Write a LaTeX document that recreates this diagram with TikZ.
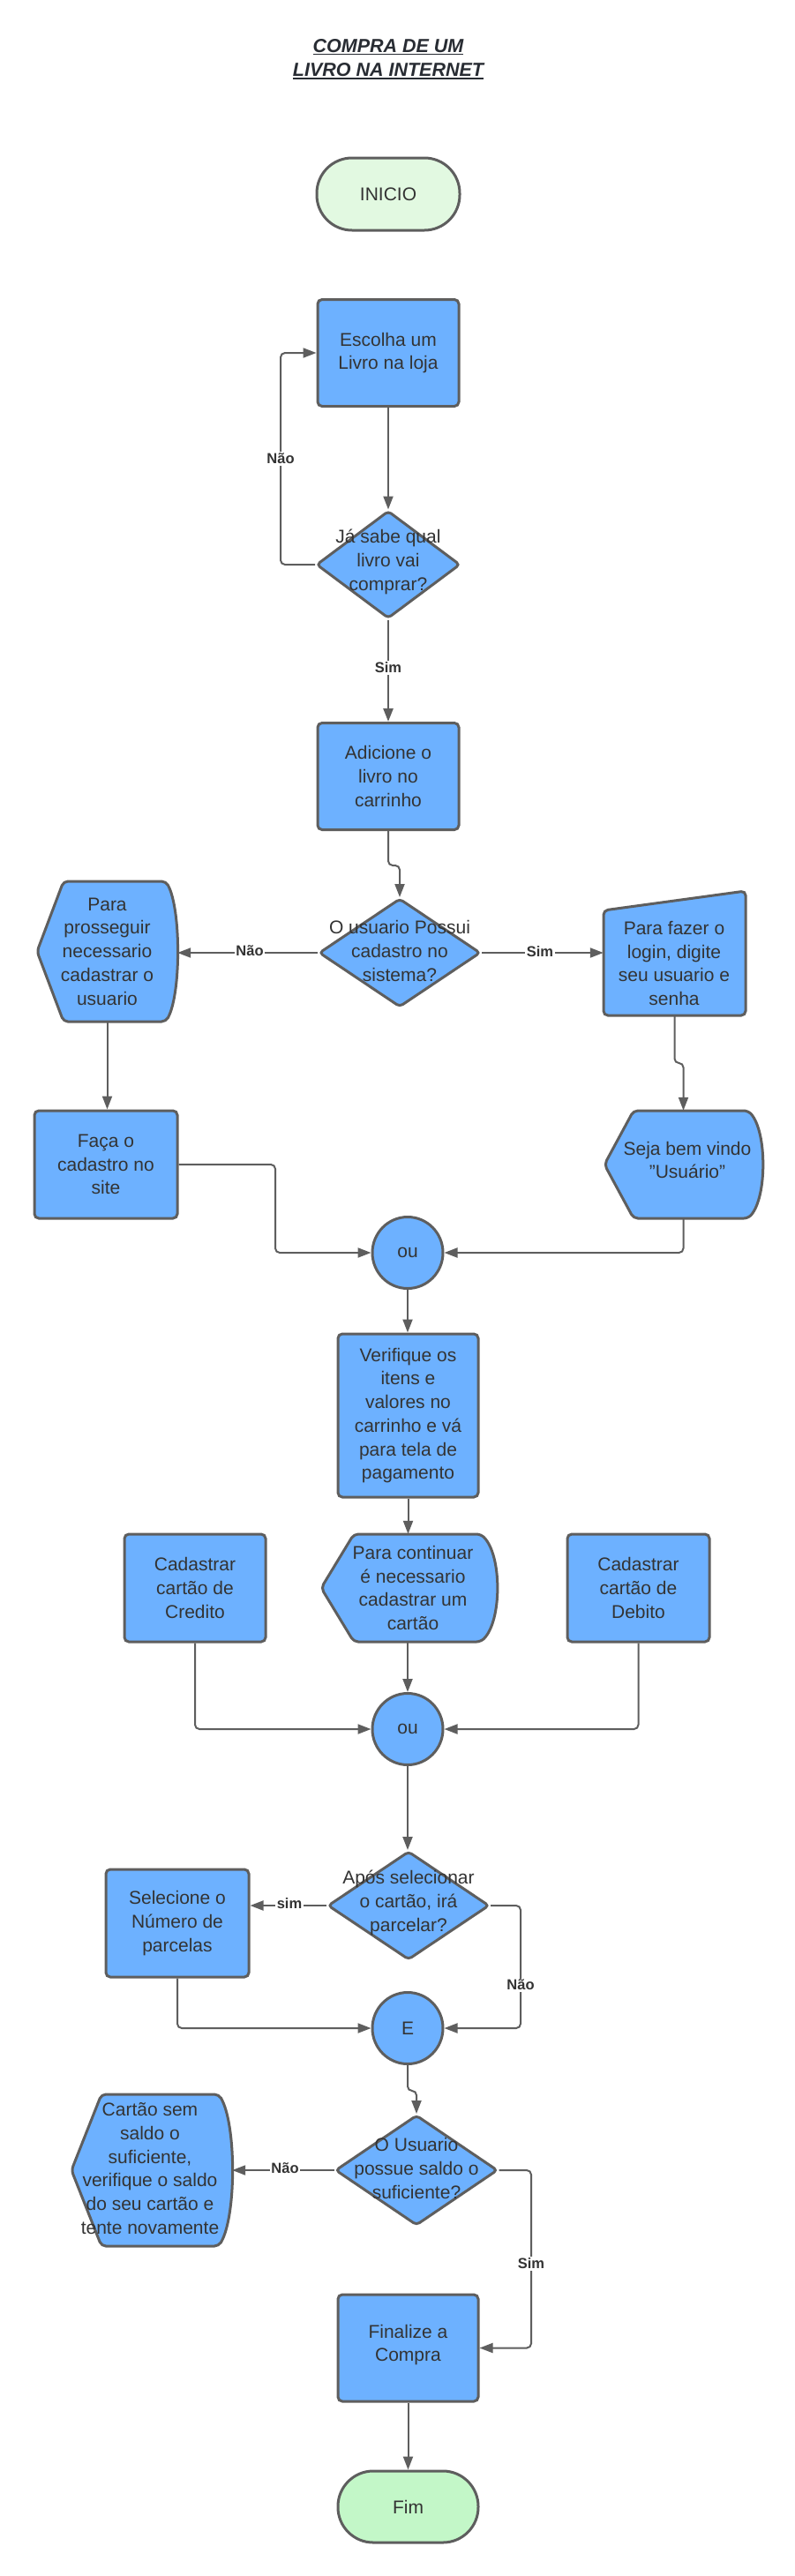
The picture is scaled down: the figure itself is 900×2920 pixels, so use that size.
\documentclass[tikz,border=0pt]{standalone}
\usepackage{fontspec}
\setmainfont{Liberation Sans}
\usetikzlibrary{shapes.geometric,arrows.meta}
\definecolor{bfill}{HTML}{6DB1FF}
\definecolor{edgec}{HTML}{5E5E5E}
\definecolor{txtc}{HTML}{333333}
\definecolor{titc}{HTML}{282C33}
\definecolor{gstart}{HTML}{E2F9E1}
\definecolor{gend}{HTML}{C3F7C8}
\newcommand{\ttlul}[1]{\setbox0\hbox{#1}\rlap{\rule[-3.2pt]{\wd0}{1.8pt}}\box0}
\newcommand{\dispshp}[6]{\draw[shp] (#1,{(#5+#6)/2}) -- (#2,#5) -- (#3,#5) .. controls ({#3+(#4-#3)*4/3},{#5+(#6-#5)*0.2}) and ({#3+(#4-#3)*4/3},{#6-(#6-#5)*0.2}) .. (#3,#6) -- (#2,#6) -- cycle;}
\begin{document}
\begin{tikzpicture}[x=1pt,y=-1pt,
  every node/.style={text=txtc, font=\fontsize{21}{26.7}\selectfont, align=center},
  shp/.style={draw=edgec, line width=3pt, fill=bfill, rounded corners=5pt},
  box/.style={shape=rectangle, draw=edgec, line width=3pt, fill=bfill, rounded corners=5pt, inner sep=0pt},
  bb/.style={shape=rectangle, inner sep=0pt},
  dia/.style={diamond, draw=edgec, line width=3pt, fill=bfill, rounded corners=4pt, inner sep=0pt},
  jn/.style={ellipse, draw=edgec, line width=3pt, fill=bfill, minimum width=80pt, minimum height=81pt, inner sep=0pt},
  term/.style={shape=rectangle, draw=edgec, line width=3pt, rounded corners=40pt, inner sep=0pt},
  conn/.style={draw=edgec, line width=2pt, rounded corners=5pt, -{Triangle[length=15pt,width=11pt]}},
  lbl/.style={fill=white, inner sep=1.5pt, font=\bfseries\fontsize{16.5}{18}\selectfont}
]
\fill[white] (0,0) rectangle (900,2920);
\useasboundingbox (0,0) rectangle (900,2920);

% title
\node[text=titc, font=\bfseries\itshape\fontsize{21.5}{27.5}\selectfont] (title) at (440,67) {\ttlul{COMPRA DE UM}\\\ttlul{LIVRO NA INTERNET}};

% terminators and boxes
\node[term, fill=gstart, minimum width=162pt, minimum height=82pt] (inicio) at (440,220) {INICIO};
\node[box, minimum width=160pt, minimum height=121pt] (escolha) at (440,400) {Escolha um\\Livro na loja};
\node[dia, minimum width=163pt, minimum height=122pt] (d1) at (440,640) {};
\node[box, minimum width=160pt, minimum height=121pt] (adicione) at (440,880) {Adicione o\\livro no\\carrinho};
\node[dia, minimum width=183pt, minimum height=123pt] (d2) at (453,1080) {};

% display shapes
\dispshp{42}{72}{188}{201}{999}{1158}
\dispshp{685}{718}{848}{864}{1259}{1381}
\dispshp{364}{401}{545}{563}{1739}{1861}
\dispshp{81}{115}{248}{263}{2374}{2546}
% manual input
\draw[shp] (684,1151) -- (684,1032) -- (845,1010) -- (845,1151) -- cycle;

\node[bb, minimum width=159pt, minimum height=159pt] (prosseguir) at (121.5,1078.5) {Para\\prosseguir\\necessario\\cadastrar o\\usuario};
\node[bb, minimum width=161pt, minimum height=141pt] (login) at (764.5,1080.5) {};
\node[bb, minimum width=179pt, minimum height=122pt] (seja) at (774.5,1320) {};
\node[bb, minimum width=199pt, minimum height=122pt] (continuar) at (463.5,1800) {};
\node[bb, minimum width=182pt, minimum height=172pt] (semsaldo) at (172,2460) {};

\node[box, minimum width=162pt, minimum height=122pt] (faca) at (120,1320) {Faça o\\cadastro no\\site};
\node[jn] (ou1) at (462,1420) {ou};
\node[box, minimum width=159pt, minimum height=185pt] (verifique) at (462.5,1604.5) {Verifique os\\itens e\\valores no\\carrinho e vá\\para tela de\\pagamento};
\node[box, minimum width=160pt, minimum height=122pt] (credito) at (221,1800) {Cadastrar\\cartão de\\Credito};
\node[box, minimum width=161pt, minimum height=122pt] (debito) at (723.5,1800) {Cadastrar\\cartão de\\Debito};
\node[jn] (ou2) at (462,1960) {ou};
\node[dia, minimum width=183pt, minimum height=123pt] (d3) at (463,2160) {};
\node[box, minimum width=162pt, minimum height=122pt] (selecione) at (201,2180) {Selecione o\\Número de\\parcelas};
\node[jn] (ejn) at (462,2299) {E};
\node[dia, minimum width=184pt, minimum height=125pt] (d4) at (472,2460) {};
\node[box, minimum width=159pt, minimum height=121pt] (finalize) at (462.5,2661.5) {};
\node[term, fill=gend, minimum width=159pt, minimum height=81pt] (fim) at (462.5,2841.5) {Fim};

% texts over shapes
\node[bb] (t1) at (440,637) {Já sabe qual\\livro vai\\comprar?};
\node[bb] (t2) at (453,1078) {O usuario Possui\\cadastro no\\sistema?};
\node[bb] (t3) at (764,1092) {Para fazer o\\login, digite\\seu usuario e\\senha};
\node[bb] (t4) at (779,1315) {Seja bem vindo\\"Usuário"};
\node[bb] (t5) at (468,1800) {Para continuar\\é necessario\\cadastrar um\\cartão};
\node[bb] (t6) at (463,2157) {Após selecionar\\o cartão, irá\\parcelar?};
\node[bb] (t7) at (472,2458) {O Usuario\\possue saldo o\\suficiente?};
\node[bb] (t8) at (170,2458) {Cartão sem\\saldo o\\suficiente,\\verifique o saldo\\do seu cartão e\\tente novamente};
\node[bb] (t9) at (462.5,2658) {Finalize a\\Compra};

% connectors
\draw[conn] (escolha.south) -- (d1.north);
\draw[conn] (d1.west) -- (318,640) -- (318,400) -- (escolha.west);
\node[lbl] (l1) at (318,520) {Não};
\draw[conn, line width=2.6pt] (d1.south) -- (adicione.north);
\node[lbl] (l2) at (440,757) {Sim};
\draw[conn] (adicione.south) -- (440,981) -- (453,981) -- (d2.north);
\draw[conn] (d2.west) -- (d2.west -| prosseguir.east);
\node[lbl] (l3) at (283,1078) {Não};
\draw[conn] (d2.east) -- (d2.east -| login.west);
\node[lbl] (l4) at (612,1079) {Sim};
\draw[conn] (prosseguir.south) -- (prosseguir.south |- faca.north);
\draw[conn] (login.south) -- (764.5,1205) -- (774.5,1205) -- (seja.north);
\draw[conn] (faca.east) -- (312,1320) -- (312,1420) -- (ou1.west);
\draw[conn] (seja.south) |- (ou1.east);
\draw[conn] (ou1.south) -- (ou1.south |- verifique.north);
\draw[conn] (verifique.south) -- (verifique.south |- continuar.north);
\draw[conn] (continuar.south -| ou2.north) -- (ou2.north);
\draw[conn] (credito.south) |- (ou2.west);
\draw[conn] (debito.south) |- (ou2.east);
\draw[conn] (ou2.south) -- (ou2.south |- d3.north);
\draw[conn] (d3.west) -- (d3.west -| selecione.east);
\node[lbl] (l5) at (328,2158) {sim};
\draw[conn] (d3.east) -- (590,2160) -- (590,2299) -- (ejn.east);
\node[lbl] (l6) at (590,2250) {Não};
\draw[conn] (selecione.south) |- (ejn.west);
\draw[conn] (ejn.south) -- (462,2370) -- (472,2370) -- (d4.north);
\draw[conn] (d4.west) -- (d4.west -| semsaldo.east);
\node[lbl] (l7) at (323,2458) {Não};
\draw[conn] (d4.east) -- (602,2460) -- (602,2661.5) -- (finalize.east);
\node[lbl] (l8) at (602,2566) {Sim};
\draw[conn] (finalize.south) -- (fim.north);
\end{tikzpicture}
\end{document}
